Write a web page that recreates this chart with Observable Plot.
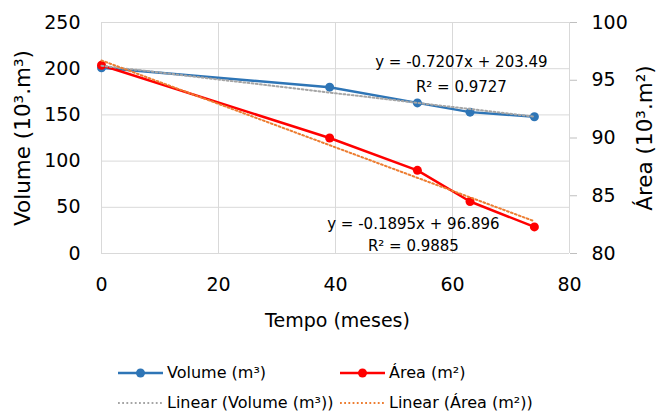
<!DOCTYPE html>
<html>
<head>
<meta charset="utf-8">
<script src="https://cdn.jsdelivr.net/npm/d3@7"></script>
<script src="https://cdn.jsdelivr.net/npm/@observablehq/plot@0.6"></script>
<style>
  body { margin: 0; background: #fff; font-family: "DejaVu Sans", sans-serif; }
  #wrap { position: relative; width: 661px; height: 414px; overflow: hidden; }
  #legend { position: absolute; left: 0; top: 345px; width: 661px; height: 69px; font-size: 16px; color: #000; }
  .item { position: absolute; display: flex; align-items: center; height: 22px; line-height: 20px; white-space: nowrap; }
  .item svg { margin-right: 4px; }
</style>
</head>
<body>
<div id="wrap">
  <div id="chart"></div>
  <div id="legend"></div>
</div>
<script>
// ---- data ----
const time = [0, 39, 54, 63, 74];
const volume = [201, 180, 163, 153, 148];
const area = [96.3, 90.0, 87.2, 84.5, 82.3];
const timeTicks = [0, 20, 40, 60, 80];
const volumeTicks = [0, 50, 100, 150, 200, 250];
const areaTicks = [80, 85, 90, 95, 100];
const volumeEq = ["y = -0.7207x + 203.49", "R² = 0.9727"];
const areaEq = ["y = -0.1895x + 96.896", "R² = 0.9885"];
const seriesNames = ["Volume (m³)", "Área (m²)", "Linear (Volume (m³))", "Linear (Área (m²))"];
const colors = ["#2E75B6", "#FF0000", "#A5A5A5", "#ED7D31"];

// map the secondary (area) axis onto the primary (volume) scale
const vMin = volumeTicks[0], vMax = volumeTicks[volumeTicks.length - 1];
const aMin = areaTicks[0], aMax = areaTicks[areaTicks.length - 1];
const areaToVol = a => vMin + (a - aMin) * (vMax - vMin) / (aMax - aMin);
const volToArea = v => aMin + (v - vMin) * (aMax - aMin) / (vMax - vMin);

const volRows = time.map((t, i) => ({t, v: volume[i]}));
const areaRows = time.map((t, i) => ({t, v: areaToVol(area[i])}));

const W = 661, H = 345;
const dotted = "1.8,2.4";
const chart = Plot.plot({
  width: W, height: H,
  marginLeft: 101, marginRight: 92, marginTop: 22, marginBottom: 92,
  style: {fontFamily: "DejaVu Sans, sans-serif", color: "#000", background: "#fff"},
  x: {domain: [timeTicks[0], timeTicks[timeTicks.length - 1]]},
  y: {domain: [vMin, vMax]},
  marks: [
    Plot.gridY(volumeTicks, {stroke: "#D9D9D9", strokeOpacity: 1, strokeWidth: 1}),
    Plot.gridX(timeTicks, {stroke: "#D9D9D9", strokeOpacity: 1, strokeWidth: 1}),
    Plot.axisY({anchor: "left", ticks: volumeTicks, tickSize: 0, tickPadding: 21, fontSize: 19, label: null}),
    Plot.axisY({anchor: "right", ticks: areaTicks.map(areaToVol), tickFormat: d => String(Math.round(volToArea(d))),
      tickSize: 7, tickPadding: 15, stroke: "#BFBFBF", fill: "#000", fontSize: 19, label: null}),
    Plot.axisX({ticks: timeTicks, tickSize: 0, tickPadding: 24, fontSize: 19, label: null}),
    Plot.text(["Volume (10³.m³)"], {frameAnchor: "left", dx: -78, rotate: -90, textAnchor: "middle", lineAnchor: "middle", fontSize: 21.5}),
    Plot.text(["Área (10³.m²)"], {frameAnchor: "right", dx: 76, rotate: -90, textAnchor: "middle", lineAnchor: "middle", fontSize: 21.5}),
    Plot.text(["Tempo (meses)"], {frameAnchor: "bottom", dy: 67, dx: 2, textAnchor: "middle", lineAnchor: "middle", fontSize: 19}),
    // series
    Plot.line(volRows, {x: "t", y: "v", stroke: colors[0], strokeWidth: 2.5}),
    Plot.dot(volRows, {x: "t", y: "v", fill: colors[0], r: 4.5}),
    Plot.line(areaRows, {x: "t", y: "v", stroke: colors[1], strokeWidth: 2.5}),
    Plot.dot(areaRows, {x: "t", y: "v", fill: colors[1], r: 4.5}),
    // trend lines
    Plot.linearRegressionY(volRows, {x: "t", y: "v", ci: 0, stroke: colors[2], strokeWidth: 2, strokeDasharray: dotted, strokeOpacity: 1}),
    Plot.linearRegressionY(areaRows, {x: "t", y: "v", ci: 0, stroke: colors[3], strokeWidth: 2, strokeDasharray: dotted, strokeOpacity: 1}),
    // equations
    Plot.text(volRows.slice(-1), {x: "t", y: "v", text: () => volumeEq.join("\n"), dx: -73, dy: -45, lineHeight: 1.65, textAnchor: "middle", lineAnchor: "middle", fontSize: 15, fill: "#000"}),
    Plot.text(areaRows.slice(-1), {x: "t", y: "v", text: () => areaEq.join("\n"), dx: -121, dy: 6, lineHeight: 1.49, textAnchor: "middle", lineAnchor: "middle", fontSize: 15, fill: "#000"})
  ]
});
document.getElementById("chart").appendChild(chart);

// ---- legend ----
const legend = document.getElementById("legend");
const legendPos = [[118, 28], [340, 28], [118, 58], [340, 58]];
seriesNames.forEach((name, i) => {
  const div = document.createElement("div");
  div.className = "item";
  div.style.left = legendPos[i][0] + "px";
  div.style.top = (legendPos[i][1] - 11) + "px";
  const marker = i < 2;
  const sw = `<svg width="45" height="12">` +
    (marker
      ? `<line x1="0" x2="45" y1="6" y2="6" stroke="${colors[i]}" stroke-width="2.5"/><circle cx="22.5" cy="6" r="4.5" fill="${colors[i]}"/>`
      : `<line x1="0" x2="45" y1="6" y2="6" stroke="${colors[i]}" stroke-width="2" stroke-dasharray="${dotted}"/>`) +
    `</svg>`;
  div.innerHTML = sw + `<span>${name}</span>`;
  legend.appendChild(div);
});
</script>
</body>
</html>
